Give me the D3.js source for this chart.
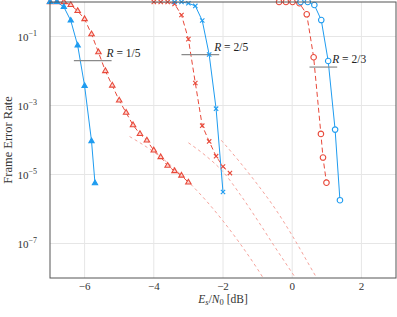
<!doctype html>
<html lang="en">
<head>
<meta charset="utf-8">
<title>Frame Error Rate</title>
<script src="https://d3js.org/d3.v7.min.js"></script>
<style>
  body { margin: 0; background: #fff; }
  svg { display: block; }
  text { font-family: "Liberation Serif", "DejaVu Serif", serif; fill: #333; }
</style>
</head>
<body>
<svg id="chart" width="397" height="317"></svg>
<script>
// tick values
var xTicks = [-6, -4, -2, 0, 2];
var yTicks = [1e-1, 1e-3, 1e-5, 1e-7];

// R = 1/5 (triangles)
var snrTriBlue = [-7.0, -6.8, -6.6, -6.4, -6.2, -6.0, -5.8, -5.7];
var ferTriBlue = [1, 1, 0.72, 0.29, 0.055, 0.0037, 9.3e-5, 5.6e-6];
var snrTriRed = [-7.0, -6.8, -6.6, -6.4, -6.2, -6.0, -5.8, -5.6, -5.4, -5.2, -5.0, -4.8, -4.6, -4.4, -4.2, -4.0, -3.8, -3.6, -3.4, -3.2, -3.0];
var ferTriRed = [1, 1, 1, 0.82, 0.55, 0.32, 0.117, 0.035, 0.010, 0.0038, 0.0014, 6.2e-4, 2.7e-4, 1.5e-4, 9.7e-5, 5.0e-5, 3.2e-5, 1.8e-5, 1.26e-5, 9.3e-6, 5.9e-6];

// R = 2/5 (crosses)
var snrCrossBlue = [-3.4, -3.2, -3.0, -2.8, -2.6, -2.4, -2.2, -2.0];
var ferCrossBlue = [1, 1, 0.92, 0.77, 0.29, 0.030, 8.1e-4, 3.1e-6];
var snrCrossRed = [-4.0, -3.8, -3.6, -3.4, -3.2, -3.0, -2.8, -2.6, -2.4, -2.2, -2.0, -1.8];
var ferCrossRed = [1, 1, 1, 0.88, 0.42, 0.084, 0.0045, 2.6e-4, 9.1e-5, 3.4e-5, 1.7e-5, 1.1e-5];

// R = 2/3 (circles)
var snrCircBlue = [0.24, 0.45, 0.64, 0.84, 1.04, 1.24, 1.38];
var ferCircBlue = [1, 1, 0.82, 0.30, 0.0195, 2.0e-4, 1.8e-6];
var snrCircRed = [-0.38, -0.18, 0.01, 0.21, 0.42, 0.62, 0.83, 0.89, 0.99];
var ferCircRed = [1, 1, 1, 0.92, 0.44, 0.025, 1.5e-4, 3.1e-5, 5.8e-6];

// light dashed reference curves
var snrBound15 = [-4.7, -4.0, -3.5, -3.0, -2.5, -2.0, -1.5, -1.0, -0.8];
var ferBound15 = [1.26e-4, 4.5e-5, 1.8e-5, 6.1e-6, 1.8e-6, 4.5e-7, 9.7e-8, 1.8e-8, 8.7e-9];
var snrBound25 = [-3.0, -2.5, -2.0, -1.5, -1.0, -0.5, 0.0, 0.15];
var ferBound25 = [8.3e-5, 3.5e-5, 1.2e-5, 2.6e-6, 4.7e-7, 7.9e-8, 1.4e-8, 8.3e-9];
var snrBound23 = [-2.05, -1.5, -1.0, -0.5, 0.0, 0.5, 0.75];
var ferBound23 = [9.8e-5, 2.2e-5, 5.1e-6, 1.05e-6, 1.7e-7, 2.3e-8, 8.5e-9];

// rate labels
var rateLabels = ["1/5", "2/5", "2/3"];
var rateX1 = [-6.31, -3.2, 0.5];
var rateX2 = [-5.22, -2.11, 1.3];
var rateY = [0.02, 0.03, 0.013];

var blue = "#1f9cf0", red = "#e8493a", pink = "#f5a39c";

var margin = {top: 2, right: 1, bottom: 39, left: 50};
var width = 397 - margin.left - margin.right;
var height = 317 - margin.top - margin.bottom;

var svg = d3.select("#chart");
var g = svg.append("g").attr("transform", "translate(" + margin.left + "," + margin.top + ")");

var xScale = d3.scaleLinear().domain([-7, 3]).range([0, width]);
var yScale = d3.scaleLog().domain([1e-8, 1]).range([height, 0]);

svg.append("defs").append("clipPath").attr("id", "clip")
  .append("rect").attr("width", width).attr("height", height);

// grid
g.append("g").selectAll("line").data(xTicks).enter().append("line")
  .attr("x1", function(d) { return xScale(d); }).attr("x2", function(d) { return xScale(d); })
  .attr("y1", 0).attr("y2", height)
  .attr("stroke", "#e6e6e6").attr("stroke-width", 1);
g.append("g").selectAll("line").data(yTicks).enter().append("line")
  .attr("y1", function(d) { return yScale(d); }).attr("y2", function(d) { return yScale(d); })
  .attr("x1", 0).attr("x2", width)
  .attr("stroke", "#e6e6e6").attr("stroke-width", 1);

// tick labels
g.append("g").selectAll("text").data(xTicks).enter().append("text")
  .attr("x", function(d) { return xScale(d); })
  .attr("y", height + 12)
  .attr("text-anchor", "middle")
  .style("font-size", "11px")
  .text(function(d) { return d < 0 ? "\u2212" + Math.abs(d) : d; });

var yl = g.append("g").selectAll("text").data(yTicks).enter().append("text")
  .attr("x", -13)
  .attr("y", function(d) { return yScale(d) + 4; })
  .attr("text-anchor", "end")
  .style("font-size", "11px");
yl.append("tspan").text("10");
yl.append("tspan").attr("dy", -5).style("font-size", "8px")
  .text(function(d) { return "\u2212" + Math.round(-Math.log10(d)); });

function makeLine(xs, ys, curve) {
  return d3.line()
    .x(function(i) { return xScale(xs[i]); })
    .y(function(i) { return yScale(ys[i]); })
    .curve(curve || d3.curveLinear)(d3.range(xs.length));
}

var lines = g.append("g").attr("clip-path", "url(#clip)");

// reference curves
[[snrBound15, ferBound15], [snrBound25, ferBound25], [snrBound23, ferBound23]].forEach(function(b) {
  lines.append("path").attr("d", makeLine(b[0], b[1], d3.curveMonotoneX))
    .attr("fill", "none").attr("stroke", pink).attr("stroke-width", 1)
    .attr("stroke-dasharray", "3,3");
});

// rate annotation lines
for (var k = 0; k < rateLabels.length; k++) {
  g.append("line")
    .attr("x1", xScale(rateX1[k])).attr("x2", xScale(rateX2[k]))
    .attr("y1", yScale(rateY[k])).attr("y2", yScale(rateY[k]))
    .attr("stroke", "#8a8a8a").attr("stroke-width", 1.2);
}

var series = [
  {x: snrTriRed, y: ferTriRed, color: red, dash: "5,3", sym: d3.symbolTriangle, size: 13, fill: "#fbd3cf"},
  {x: snrCrossRed, y: ferCrossRed, color: red, dash: "5,3", sym: d3.symbolTimes, size: 14, fill: "none"},
  {x: snrCircRed, y: ferCircRed, color: red, dash: "5,3", sym: d3.symbolCircle, size: 24, fill: "#fff"},
  {x: snrTriBlue, y: ferTriBlue, color: blue, dash: null, sym: d3.symbolTriangle, size: 12, fill: blue},
  {x: snrCrossBlue, y: ferCrossBlue, color: blue, dash: null, sym: d3.symbolTimes, size: 14, fill: "none"},
  {x: snrCircBlue, y: ferCircBlue, color: blue, dash: null, sym: d3.symbolCircle, size: 24, fill: "#fff"}
];

series.forEach(function(s) {
  lines.append("path").attr("d", makeLine(s.x, s.y))
    .attr("fill", "none").attr("stroke", s.color).attr("stroke-width", 1)
    .attr("stroke-dasharray", s.dash);
  g.append("g").selectAll("path").data(d3.range(s.x.length)).enter().append("path")
    .attr("transform", function(i) { return "translate(" + xScale(s.x[i]) + "," + yScale(s.y[i]) + ")"; })
    .attr("d", d3.symbol().type(s.sym).size(s.size))
    .attr("fill", s.fill).attr("stroke", s.color).attr("stroke-width", 1.1);
});

// rate labels
for (var k = 0; k < rateLabels.length; k++) {
  var t = g.append("text")
    .attr("x", xScale(rateX2[k]) - 5)
    .attr("y", yScale(rateY[k]) - 4)
    .style("font-size", "11.5px").style("fill", "#222");
  t.append("tspan").style("font-style", "italic").text("R");
  t.append("tspan").text(" = " + rateLabels[k]);
}

// frame
g.append("rect").attr("width", width).attr("height", height)
  .attr("fill", "none").attr("stroke", "#555").attr("stroke-width", 1);

// axis label x: E_s/N_0 [dB]
var xl = svg.append("text")
  .attr("x", margin.left + width / 2).attr("y", 303)
  .attr("text-anchor", "middle").style("font-size", "11.5px");
xl.append("tspan").style("font-style", "italic").text("E");
xl.append("tspan").attr("baseline-shift", "-20%").style("font-size", "8.5px").style("font-style", "italic").text("s");
xl.append("tspan").text("/");
xl.append("tspan").style("font-style", "italic").text("N");
xl.append("tspan").attr("baseline-shift", "-20%").style("font-size", "8.5px").text("0");
xl.append("tspan").text("\u00a0[dB]");

svg.append("text")
  .attr("transform", "translate(12," + (margin.top + height / 2) + ") rotate(-90)")
  .attr("text-anchor", "middle").style("font-size", "12.5px")
  .text("Frame Error Rate");
</script>
</body>
</html>
